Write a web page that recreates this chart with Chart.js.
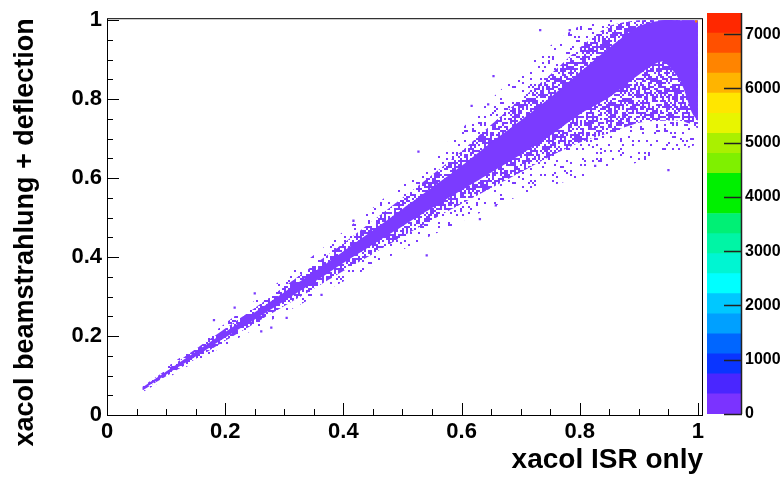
<!DOCTYPE html>
<html>
<head>
<meta charset="utf-8">
<script src="https://cdn.jsdelivr.net/npm/chart.js@4.4.1/dist/chart.umd.min.js"></script>
<style>
  body { margin: 0; background: #fff; }
  #wrap { position: relative; width: 782px; height: 477px; overflow: hidden; }
  #mainChart { position: absolute; left: 0; top: 0; }
  #paletteChart { position: absolute; left: 700px; top: 0; }
</style>
</head>
<body>
<div id="wrap">
  <canvas id="mainChart" width="782" height="477"></canvas>
  <canvas id="paletteChart" width="82" height="477"></canvas>
</div>
<script>
// band edges, one entry per x column
const xCols   = [0.06, 0.10, 0.15, 0.20, 0.25, 0.30, 0.35, 0.40, 0.45, 0.50, 0.55, 0.60, 0.65, 0.70, 0.75, 0.80, 0.85, 0.90, 0.94, 0.97, 0.99, 1.00];
// solid core of the band
const coreLo  = [0.064, 0.102, 0.148, 0.196, 0.242, 0.289, 0.336, 0.385, 0.432, 0.478, 0.524, 0.569, 0.614, 0.660, 0.708, 0.762, 0.805, 0.862, 0.895, 0.846, 0.765, 0.745];
const coreHi  = [0.070, 0.110, 0.160, 0.210, 0.260, 0.311, 0.362, 0.415, 0.468, 0.522, 0.576, 0.631, 0.690, 0.746, 0.804, 0.868, 0.930, 0.985, 1.000, 1.000, 1.000, 1.000];
// densely populated fringe
const fringeLo = [0.062, 0.098, 0.142, 0.188, 0.232, 0.276, 0.320, 0.365, 0.408, 0.452, 0.494, 0.535, 0.575, 0.615, 0.655, 0.690, 0.715, 0.740, 0.745, 0.745, 0.735, 0.725];
const fringeHi = [0.072, 0.114, 0.167, 0.219, 0.271, 0.325, 0.380, 0.435, 0.492, 0.550, 0.608, 0.668, 0.735, 0.800, 0.862, 0.930, 0.985, 1.000, 1.000, 1.000, 1.000, 1.000];
// sparse outer halo
const haloLo  = [0.058, 0.092, 0.135, 0.176, 0.218, 0.258, 0.298, 0.338, 0.378, 0.418, 0.455, 0.490, 0.525, 0.555, 0.580, 0.600, 0.620, 0.640, 0.655, 0.670, 0.680, 0.690];
const haloHi  = [0.076, 0.120, 0.175, 0.232, 0.290, 0.348, 0.405, 0.465, 0.525, 0.590, 0.655, 0.725, 0.800, 0.870, 0.935, 0.985, 1.000, 1.000, 1.000, 1.000, 1.000, 1.000];

// isolated entries far from the band
const strayX = [0.654, 0.733, 0.783, 0.617, 0.527, 0.541, 0.417, 0.631, 0.250, 0.216, 0.181, 0.304, 0.278, 0.261, 0.363, 0.658, 0.950, 0.826, 0.645];
const strayY = [0.858, 0.975, 0.975, 0.783, 0.667, 0.404, 0.492, 0.496, 0.308, 0.272, 0.240, 0.246, 0.221, 0.212, 0.304, 0.531, 0.620, 0.631, 0.787];

// hottest bin in the corner
const peakX = [0.997];
const peakY = [0.997];

const xTickVals   = [0, 0.2, 0.4, 0.6, 0.8, 1];
const xTickLabels = ['0', '0.2', '0.4', '0.6', '0.8', '1'];
const yTickVals   = [0, 0.2, 0.4, 0.6, 0.8, 1];
const yTickLabels = ['0', '0.2', '0.4', '0.6', '0.8', '1'];

// z palette
const paletteColors = ['#7b33ff', '#4a26ff', '#0a35ff', '#0066ff', '#00a0ff', '#00c8ff', '#00ffff', '#00f5d2', '#00f5a5', '#00f075',
                       '#00f000', '#00f000', '#7ff000', '#aaf000', '#e8f500', '#ffe600', '#ffb400', '#ff8400', '#ff5000', '#ff2800'];
const paletteMax = 7390;
const paletteTickVals   = [0, 1000, 2000, 3000, 4000, 5000, 6000, 7000];
const paletteTickLabels = ['0', '1000', '2000', '3000', '4000', '5000', '6000', '7000'];

const dotColor = '#7b3bff';
const fontFam = "'Liberation Sans', Arial, Helvetica, sans-serif";
Chart.defaults.color = '#000';
Chart.defaults.font.family = fontFam;

// dotted texture so the thin parts of the band look like sparse bins
function speckle(density, seed) {
  const c = document.createElement('canvas');
  c.width = c.height = 96;
  const g = c.getContext('2d');
  g.fillStyle = dotColor;
  for (let i = 0; i < 48; i++) {
    for (let j = 0; j < 48; j++) {
      let h = (i * 374761393 + j * 668265263 + seed * 982451653) >>> 0;
      h = Math.imul(h ^ (h >>> 13), 1274126177) >>> 0;
      h = (h ^ (h >>> 16)) >>> 0;
      if ((h % 1000) / 1000 < density) g.fillRect(i * 2, j * 2, 2, 2);
    }
  }
  return g.createPattern(c, 'repeat');
}

function pts(ys) {
  return xCols.map((x, i) => ({ x, y: ys[i] }));
}

function edge(ys, fill, bg) {
  return {
    data: pts(ys),
    fill: fill,
    backgroundColor: bg,
    borderColor: 'transparent',
    borderWidth: 0,
    pointRadius: 0,
    tension: 0.25
  };
}

const frameTicks = {
  id: 'frameTicks',
  afterDraw(chart) {
    const { ctx, chartArea: a, scales } = chart;
    ctx.save();
    ctx.strokeStyle = '#000';
    ctx.lineWidth = 1;
    ctx.strokeRect(a.left + 0.5, a.top + 0.5, a.right - a.left - 1, a.bottom - a.top);
    ctx.beginPath();
    for (let k = 0; k <= 20; k++) {
      const v = k * 0.05;
      const major = k % 4 === 0;
      const len = major ? 12 : 6;
      const px = Math.round(scales.x.getPixelForValue(v)) + 0.5;
      ctx.moveTo(px, a.bottom);
      ctx.lineTo(px, a.bottom - len);
      const py = Math.round(scales.y.getPixelForValue(v)) + 0.5;
      ctx.moveTo(a.left, py);
      ctx.lineTo(a.left + len, py);
    }
    ctx.stroke();
    ctx.restore();
  }
};

new Chart(document.getElementById('mainChart').getContext('2d'), {
  type: 'line',
  data: {
    datasets: [
      {
        data: peakX.map((x, i) => ({ x, y: peakY[i] })),
        showLine: false,
        pointStyle: 'rect',
        pointRadius: 1.6,
        borderWidth: 0,
        backgroundColor: '#ff8400'
      },
      {
        data: strayX.map((x, i) => ({ x, y: strayY[i] })),
        showLine: false,
        pointStyle: 'rect',
        pointRadius: 1.6,
        borderWidth: 0,
        backgroundColor: dotColor
      },
      edge(coreLo, false, 'transparent'),
      edge(coreHi, '-1', dotColor),
      edge(fringeLo, false, 'transparent'),
      edge(fringeHi, '-1', speckle(0.52, 1)),
      edge(haloLo, false, 'transparent'),
      edge(haloHi, '-1', speckle(0.08, 2))
    ]
  },
  options: {
    responsive: false,
    animation: false,
    layout: { padding: { top: 13, right: 79, left: 0, bottom: 0 } },
    plugins: { legend: { display: false }, tooltip: { enabled: false } },
    scales: {
      x: {
        type: 'linear',
        min: 0,
        max: 1.0085,
        grid: { display: false, drawTicks: false },
        border: { display: false },
        afterBuildTicks: s => { s.ticks = xTickVals.map(v => ({ value: v })); },
        afterFit: s => { s.height = 62; },
        ticks: {
          padding: 4,
          maxRotation: 0,
          autoSkip: false,
          font: { size: 22, weight: 'bold' },
          callback: (v, i) => xTickLabels[i]
        },
        title: {
          display: true,
          text: 'xacol ISR only',
          align: 'end',
          padding: { top: 0, bottom: 3 },
          font: { size: 28, weight: 'bold', lineHeight: 1 }
        }
      },
      y: {
        type: 'linear',
        min: 0,
        max: 1.005,
        grid: { display: false, drawTicks: false },
        border: { display: false },
        afterBuildTicks: s => { s.ticks = yTickVals.map(v => ({ value: v })); },
        afterFit: s => { s.width = 107; },
        ticks: {
          padding: 5,
          autoSkip: false,
          font: { size: 22, weight: 'bold' },
          callback: (v, i) => yTickLabels[i]
        },
        title: {
          display: true,
          text: 'xacol beamstrahlung + deflection',
          align: 'end',
          padding: { top: 12, bottom: 0 },
          font: { size: 27, weight: 'bold', lineHeight: 1 }
        }
      }
    }
  },
  plugins: [frameTicks]
});

const paletteTicks = {
  id: 'paletteTicks',
  afterDraw(chart) {
    const { ctx, chartArea: a, scales } = chart;
    ctx.save();
    ctx.strokeStyle = '#222';
    ctx.lineWidth = 1.5;
    ctx.beginPath();
    ctx.moveTo(a.right - 0.5, a.top);
    ctx.lineTo(a.right - 0.5, a.bottom);
    paletteTickVals.forEach(v => {
      const py = Math.round(scales.y.getPixelForValue(v)) + 0.5;
      ctx.moveTo(a.right - 18, py);
      ctx.lineTo(a.right, py);
    });
    ctx.stroke();
    ctx.restore();
  }
};

const zStep = paletteMax / paletteColors.length;

new Chart(document.getElementById('paletteChart').getContext('2d'), {
  type: 'bar',
  data: {
    labels: [''],
    datasets: paletteColors.map(c => ({
      data: [zStep],
      backgroundColor: c,
      borderWidth: 0,
      barPercentage: 1,
      categoryPercentage: 1
    }))
  },
  options: {
    responsive: false,
    animation: false,
    layout: { padding: { top: 13, right: 0, left: 7, bottom: 63 } },
    plugins: { legend: { display: false }, tooltip: { enabled: false } },
    scales: {
      x: { display: false, stacked: true },
      y: {
        position: 'right',
        stacked: true,
        min: 0,
        max: paletteMax,
        grid: { display: false, drawTicks: false },
        border: { display: false },
        afterBuildTicks: s => { s.ticks = paletteTickVals.map(v => ({ value: v })); },
        afterFit: s => { s.width = 40; },
        ticks: {
          padding: 3,
          autoSkip: false,
          font: { size: 16, weight: 'bold' },
          callback: (v, i) => paletteTickLabels[i]
        }
      }
    }
  },
  plugins: [paletteTicks]
});
</script>
</body>
</html>
